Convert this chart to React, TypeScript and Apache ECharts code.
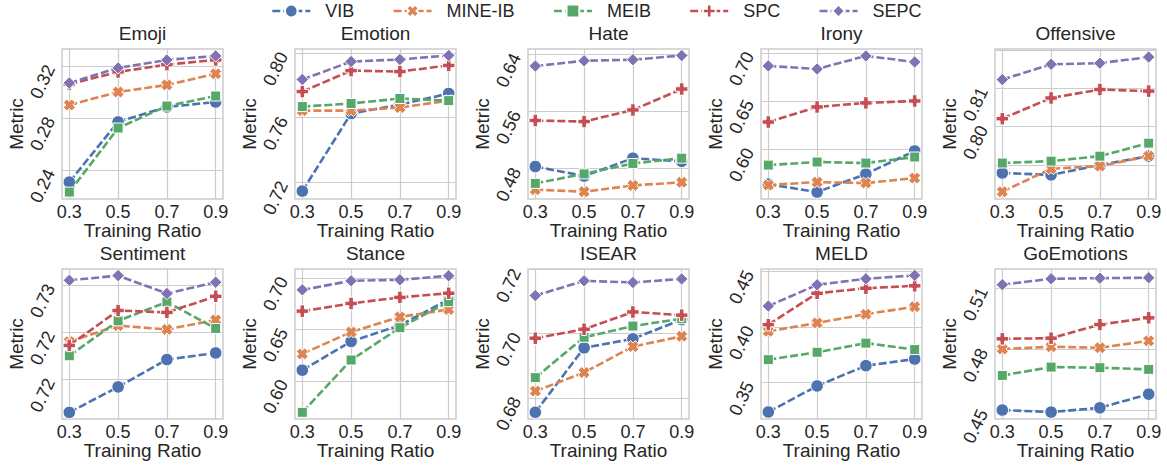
import React, { useEffect, useRef } from "react";
import * as echarts from "echarts";

const datasets = ["Emoji", "Emotion", "Hate", "Irony", "Offensive", "Sentiment", "Stance", "ISEAR", "MELD", "GoEmotions"];
const ratios = [0.3, 0.5, 0.7, 0.9];
const methods = ["VIB", "MINE-IB", "MEIB", "SPC", "SEPC"];

// one row per dataset (same order as datasets), one value per training ratio
const vib = [
  [0.2308, 0.277, 0.2885, 0.2923],
  [0.7144, 0.7625, 0.768, 0.7749],
  [0.483, 0.4697, 0.4947, 0.4903],
  [0.5635, 0.5552, 0.574, 0.598],
  [0.7879, 0.7874, 0.79, 0.7923],
  [0.7165, 0.7192, 0.7221, 0.7228],
  [0.6103, 0.6382, 0.6539, 0.6792],
  [0.6755, 0.6956, 0.6984, 0.7044],
  [0.3236, 0.347, 0.3652, 0.3712],
  [0.4502, 0.4492, 0.4513, 0.458],
];
const mineIb = [
  [0.29, 0.3, 0.3054, 0.314],
  [0.7643, 0.7643, 0.7662, 0.7705],
  [0.4506, 0.4477, 0.4565, 0.4609],
  [0.5625, 0.5656, 0.5646, 0.5698],
  [0.783, 0.789, 0.7897, 0.7923],
  [0.724, 0.7257, 0.7253, 0.7263],
  [0.6261, 0.6474, 0.6621, 0.6693],
  [0.6821, 0.6879, 0.696, 0.6992],
  [0.3961, 0.4036, 0.4115, 0.4182],
  [0.4802, 0.4813, 0.4808, 0.4842],
];
const meib = [
  [0.2231, 0.2723, 0.2892, 0.2969],
  [0.7668, 0.7687, 0.7718, 0.7705],
  [0.4594, 0.4727, 0.4873, 0.4947],
  [0.5833, 0.5865, 0.5854, 0.5917],
  [0.7905, 0.791, 0.7923, 0.7957],
  [0.7225, 0.7262, 0.7282, 0.7254],
  [0.5693, 0.6202, 0.6516, 0.6769],
  [0.6863, 0.6989, 0.7024, 0.7047],
  [0.3706, 0.3773, 0.3855, 0.3797],
  [0.4672, 0.4713, 0.471, 0.4702],
];
const spc = [
  [0.306, 0.3154, 0.321, 0.3246],
  [0.7761, 0.7891, 0.7885, 0.7923],
  [0.5475, 0.546, 0.5622, 0.5916],
  [0.6281, 0.6438, 0.648, 0.65],
  [0.8021, 0.8075, 0.8097, 0.8093],
  [0.7236, 0.7273, 0.7271, 0.7288],
  [0.6677, 0.6752, 0.6811, 0.6851],
  [0.6986, 0.7014, 0.7068, 0.7058],
  [0.4021, 0.4303, 0.4348, 0.437],
  [0.4852, 0.4855, 0.4922, 0.4955],
];
const sepc = [
  [0.3069, 0.3185, 0.3246, 0.3277],
  [0.7836, 0.7947, 0.796, 0.7985],
  [0.6238, 0.6312, 0.6327, 0.6385],
  [0.6865, 0.6833, 0.6969, 0.6906],
  [0.8123, 0.8163, 0.8166, 0.8182],
  [0.7305, 0.731, 0.7291, 0.7303],
  [0.6884, 0.6972, 0.6982, 0.7021],
  [0.7119, 0.7165, 0.716, 0.7171],
  [0.4188, 0.4379, 0.4433, 0.4464],
  [0.5118, 0.5147, 0.515, 0.5152],
];

const yTicks = [
  [0.24, 0.28, 0.32],
  [0.72, 0.76, 0.8],
  [0.48, 0.56, 0.64],
  [0.6, 0.65, 0.7],
  [0.79, 0.8, 0.81, 0.82],
  [0.72, 0.725, 0.73],
  [0.6, 0.65, 0.7],
  [0.68, 0.7, 0.72],
  [0.35, 0.4, 0.45],
  [0.45, 0.48, 0.51],
];
const yRanges = [
  [0.2178, 0.333],
  [0.7095, 0.8025],
  [0.4375, 0.6477],
  [0.548, 0.7041],
  [0.7811, 0.8203],
  [0.7158, 0.7317],
  [0.5628, 0.7087],
  [0.6734, 0.7202],
  [0.3173, 0.4521],
  [0.4458, 0.5195],
];
const xRange = [0.27, 0.93];

const colors = ["#4C72B0", "#DD8452", "#55A868", "#C44E52", "#8172B3"];
const symbols = [
  "circle",
  "path://M0,3 L3,0 L5,2 L7,0 L10,3 L8,5 L10,7 L7,10 L5,8 L3,10 L0,7 L2,5 Z",
  "rect",
  "path://M3.2,0 H6.8 V3.2 H10 V6.8 H6.8 V10 H3.2 V6.8 H0 V3.2 H3.2 Z",
  "diamond",
];
const symbolSizes = [12.5, 12, 10, 12.5, 12.5];

const FONT = "'Liberation Sans', Arial, Helvetica, sans-serif";
const TEXT = "#262626";
const GRIDC = "#cccccc";

export default function App() {
  const ref = useRef<HTMLDivElement>(null);
  useEffect(() => {
    if (!ref.current) return;
    const chart = echarts.init(ref.current, null, { renderer: "svg" });
    const tables = [vib, mineIb, meib, spc, sepc];
    const colLeft = [62, 295, 528, 761, 995];
    const rowTop = [49, 269];
    const W = 161;
    const H = 150;

    const grid = datasets.map((_, i) => ({
      left: colLeft[i % 5],
      top: rowTop[Math.floor(i / 5)],
      width: W,
      height: H,
      show: true,
      borderColor: GRIDC,
      borderWidth: 1.5,
      backgroundColor: "transparent",
      containLabel: false,
      outerBoundsMode: "none",
    }));

    const title = datasets.map((d, i) => ({
      text: d,
      left: colLeft[i % 5] + W / 2,
      top: rowTop[Math.floor(i / 5)] - 25,
      textAlign: "center",
      padding: 0,
      textStyle: { fontSize: 19, fontWeight: "normal", color: TEXT, fontFamily: FONT },
    }));

    const xAxis = datasets.map((_, i) => ({
      type: "value",
      gridIndex: i,
      min: xRange[0],
      max: xRange[1],
      axisLine: { show: false },
      axisTick: { show: false, customValues: ratios },
      axisLabel: {
        customValues: ratios,
        formatter: (v: number) => v.toFixed(1),
        fontSize: 18,
        color: TEXT,
        fontFamily: FONT,
        margin: 4,
      },
      splitLine: { show: true, lineStyle: { color: GRIDC, width: 1.2 } },
      name: "Training Ratio",
      nameLocation: "middle",
      nameGap: 22,
      nameMoveOverlap: false,
      nameTextStyle: { fontSize: 19, color: TEXT, fontFamily: FONT },
    }));

    const yAxis = datasets.map((_, i) => ({
      type: "value",
      gridIndex: i,
      min: yRanges[i][0],
      max: yRanges[i][1],
      axisLine: { show: false },
      axisTick: { show: false, customValues: yTicks[i] },
      axisLabel: {
        customValues: yTicks[i],
        formatter: (v: number) => v.toFixed(2),
        fontSize: 18,
        rotate: 65,
        color: TEXT,
        fontFamily: FONT,
        margin: 12,
      },
      splitLine: { show: true, lineStyle: { color: GRIDC, width: 1.2 } },
      name: "Metric",
      nameLocation: "middle",
      nameGap: 36,
      nameMoveOverlap: false,
      nameTextStyle: { fontSize: 19, color: TEXT, fontFamily: FONT },
    }));

    const series: any[] = [];
    methods.forEach((m, k) => {
      datasets.forEach((_, i) => {
        series.push({
          name: m,
          type: "line",
          xAxisIndex: i,
          yAxisIndex: i,
          data: ratios.map((r, j) => [r, tables[k][i][j]]),
          symbol: symbols[k],
          symbolSize: symbolSizes[k],
          showAllSymbol: true,
          clip: false,
          z: 2 + k,
          lineStyle: { color: colors[k], width: 2.6, type: [8, 3] },
          itemStyle: { color: colors[k], borderColor: "#ffffff", borderWidth: 1 },
          emphasis: { disabled: true },
        });
      });
    });

    chart.setOption({
      animation: false,
      backgroundColor: "#ffffff",
      textStyle: { fontFamily: FONT },
      title,
      legend: {
        data: methods,
        left: 271,
        top: 2,
        padding: 0,
        itemGap: 38,
        itemWidth: 38,
        itemHeight: 16,
        lineStyle: { width: 2.6 },
        textStyle: { fontSize: 18, color: TEXT, fontFamily: FONT, padding: [0, 0, 0, 10] },
      },
      grid,
      xAxis,
      yAxis,
      series,
    });
    return () => chart.dispose();
  }, []);
  return (
    <div
      ref={ref}
      style={{ position: "fixed", left: 0, top: 0, width: 1167, height: 466 }}
    />
  );
}
